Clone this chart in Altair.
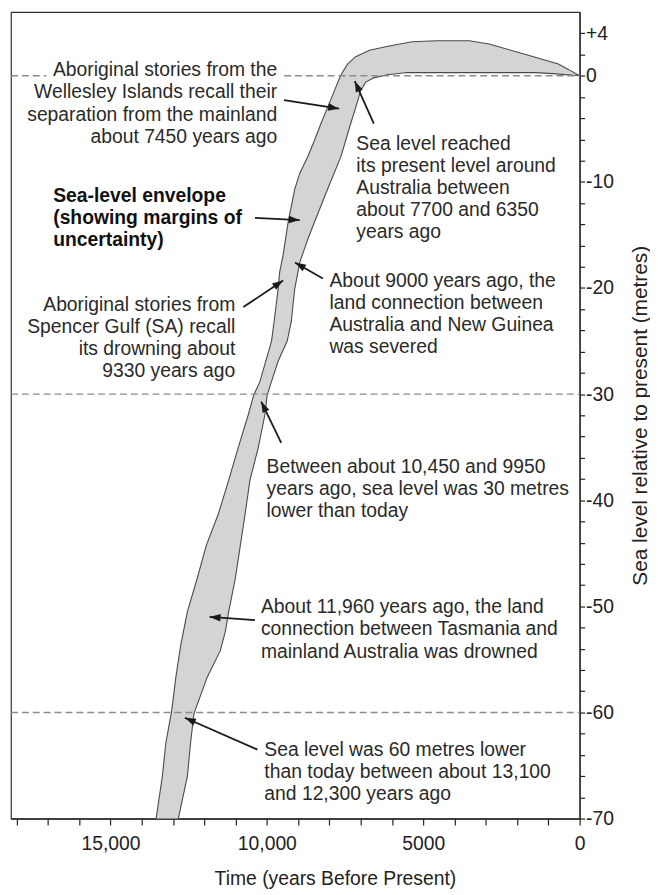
import math
import altair as alt
import pandas as pd

# ---------------- data ----------------
# Sea-level envelope: upper (older / higher) margin, from the bottom up and across to present
upper_years = [13540, 13340, 13230, 13040, 12910, 12750, 12540, 12230, 11940, 11540,
               11220, 10910, 10590, 10420, 10220, 9850, 9770, 9640, 9590, 9480,
               9320, 9110, 8950, 8690, 8480, 8270, 8060, 7840, 7630, 7420,
               7160, 6720, 6090, 5360, 4570, 3530, 2890, 2670, 1720, 680, 360, 0]
upper_levels = [-70, -66.0, -62.9, -59.8, -56.7, -53.6, -50.5, -47.4, -44.3, -41.2,
                -38.1, -35.0, -31.9, -30.1, -28.8, -25.0, -23.2, -20.1, -18.5, -16.9,
                -13.8, -10.7, -9.2, -7.6, -6.1, -4.5, -3.0, -1.4, 0.1, 1.1,
                1.8, 2.4, 2.8, 3.2, 3.3, 3.3, 3.0, 2.8, 2.0, 1.1, 0.6, 0.0]
# lower (younger / deeper) margin, from present back down to the bottom
lower_years = [860, 1400, 4980, 5520, 6150, 6580, 6840, 7000, 7160, 7320,
               7630, 8060, 8480, 8690, 8950, 9110, 9220, 9350, 9640, 9850,
               9990, 10060, 10270, 10540, 10690, 10850, 11010, 11220, 11330, 11490,
               11910, 12330, 12440, 12540, 12830]
lower_levels = [0.2, 0.3, 0.3, 0.3, 0.1, -0.2, -0.6, -1.4, -3.0, -4.5,
                -7.6, -10.7, -13.8, -15.4, -17.6, -20.1, -23.2, -25.0, -26.9, -28.8,
                -30.1, -31.9, -35.0, -38.1, -41.2, -44.3, -47.4, -50.5, -52.4, -54.2,
                -56.7, -60.1, -62.9, -66.0, -70]

# dashed reference levels (0 line is interrupted by the first annotation)
dash_levels = [0, 0, -30, -60]
dash_from = [18180, 9450, 18180, 18180]
dash_to = [17050, 0, 0, 0]

# annotations (anchor = first line)
note_text = [
    "Aboriginal stories from the\nWellesley Islands recall their\nseparation from the mainland\nabout 7450 years ago",
    "Aboriginal stories from\nSpencer Gulf (SA) recall\nits drowning about\n9330 years ago",
    "Sea level reached\nits present level around\nAustralia between\nabout 7700 and 6350\nyears ago",
    "About 9000 years ago, the\nland connection between\nAustralia and New Guinea\nwas severed",
    "Between about 10,450 and 9950\nyears ago, sea level was 30 metres\nlower than today",
    "About 11,960 years ago, the land\nconnection between Tasmania and\nmainland Australia was drowned",
    "Sea level was 60 metres lower\nthan today between about 13,100\nand 12,300 years ago",
]
note_year = [9670, 11010, 7140, 8000, 10010, 10190, 10080]
note_level = [0.5, -21.6, -6.4, -19.3, -36.9, -50.1, -63.5]
note_align = ["right", "right", "left", "left", "left", "left", "left"]

bold_text = ["Sea-level envelope\n(showing margins of\nuncertainty)"]
bold_year = [16830]
bold_level = [-11.3]

# arrows: start (year, level) -> tip (year, level)
arrow_y0 = [9450, 10380, 10750, 6580, 8210, 9540, 10380, 10300]
arrow_l0 = [-2.3, -13.4, -21.8, -4.5, -19.1, -34.6, -51.3, -63.5]
arrow_y1 = [7690, 8950, 9480, 7190, 9100, 10180, 11830, 12620]
arrow_l1 = [-3.1, -13.6, -19.3, -0.5, -17.6, -30.7, -51.0, -60.5]

x_ticks = list(range(0, 18001, 1000))
y_ticks = list(range(-70, 5, 2))

# ---------------- layout ----------------
X_DOMAIN = [0, 18180]
Y_DOMAIN = [-70, 6]
W, H = 574, 814
FONT = "Liberation Sans"
FS = 19.5
LH = 22.3
INK = "#2a2a2a"

xs = alt.Scale(domain=X_DOMAIN, reverse=True, nice=False, zero=False)
ys = alt.Scale(domain=Y_DOMAIN, nice=False, zero=False)

env = pd.DataFrame({
    "year": upper_years + lower_years,
    "level": upper_levels + lower_levels,
})
env["order"] = range(len(env))

dashes = pd.DataFrame({"level": dash_levels, "x0": dash_from, "x1": dash_to})

notes = pd.DataFrame({"text": note_text, "year": note_year, "level": note_level, "align": note_align})
bold = pd.DataFrame({"text": bold_text, "year": bold_year, "level": bold_level})

px_year = W / (X_DOMAIN[1] - X_DOMAIN[0])
px_m = H / (Y_DOMAIN[1] - Y_DOMAIN[0])
angles = []
for a, b, c, d in zip(arrow_y0, arrow_l0, arrow_y1, arrow_l1):
    dx = -(c - a) * px_year
    dy = -(d - b) * px_m
    angles.append(math.degrees(math.atan2(dx, -dy)) % 360)
arrows = pd.DataFrame({"y0": arrow_y0, "l0": arrow_l0, "y1": arrow_y1, "l1": arrow_l1, "angle": angles})

x_axis = alt.Axis(
    values=x_ticks,
    labelExpr="datum.value == 0 ? '0' : datum.value == 5000 ? '5000' : datum.value % 5000 == 0 ? format(datum.value, ',') : ''",
    tickSize=6.5, tickWidth=1.2, tickColor="#222", domainColor="#222", domainWidth=1.2,
    labelPadding=10, labelFontSize=FS, labelFont=FONT, labelColor="#222",
    labelFlush=False, labelOverlap=False, grid=False,
    title="Time (years Before Present)", titleFont=FONT, titleFontSize=FS,
    titleFontWeight="normal", titleColor="#222", titleX=327, titleY=61,
    titleAlign="center", titleBaseline="middle",
)
y_axis = alt.Axis(
    orient="right", values=y_ticks,
    labelExpr="datum.value == 4 ? '+4' : (datum.value % 10 == 0 ? '' + datum.value : '')",
    tickSize=5, tickWidth=1.2, tickColor="#222", domainColor="#222", domainWidth=1.2,
    labelPadding=1, labelFontSize=FS, labelFont=FONT, labelColor="#222",
    labelFlush=False, labelOverlap=False, grid=False,
    title="Sea level relative to present (metres)", titleFont=FONT, titleFontSize=21,
    titleFontWeight="normal", titleColor="#222", titleAngle=270, titleX=61,
    titleAlign="center", titleBaseline="middle",
)

def X(field):
    return alt.X(field, scale=xs, axis=x_axis, title="Time (years Before Present)")

def Y(field):
    return alt.Y(field, scale=ys, axis=y_axis, title="Sea level relative to present (metres)")

envelope = alt.Chart(env).mark_line(
    fill="#d4d4d4", stroke="#4a4a4a", strokeWidth=1.1
).encode(
    x=X("year:Q"),
    y=Y("level:Q"),
    order="order:Q",
)

dash_layer = alt.Chart(dashes).mark_rule(
    color="#8c8c8c", strokeWidth=1.4, strokeDash=[7, 4]
).encode(
    x=X("x0:Q"),
    x2="x1:Q",
    y=Y("level:Q"),
)

arrow_lines = alt.Chart(arrows).mark_rule(color="#1a1a1a", strokeWidth=1.8).encode(
    x=X("y0:Q"),
    y=Y("l0:Q"),
    x2="y1:Q",
    y2="l1:Q",
)

arrow_heads = alt.Chart(arrows).mark_point(
    shape="M0,0 L-0.34,1 L0.34,1 Z", filled=True, size=484,
    color="#1a1a1a", opacity=1, strokeWidth=0,
).encode(
    x=X("y1:Q"),
    y=Y("l1:Q"),
    angle=alt.Angle("angle:Q", scale=None),
)

def text_layer(df, align, weight="normal", color=INK):
    return alt.Chart(df).mark_text(
        align=align, baseline="middle", lineBreak="\n", lineHeight=LH,
        font=FONT, fontSize=FS, fontWeight=weight, color=color,
    ).encode(
        x=X("year:Q"),
        y=Y("level:Q"),
        text="text:N",
    )

right_notes = text_layer(notes[notes["align"] == "right"], "right")
left_notes = text_layer(notes[notes["align"] == "left"], "left")
bold_note = text_layer(bold, "left", weight="bold", color="#111")

chart = alt.layer(
    envelope, dash_layer, arrow_lines, arrow_heads, right_notes, left_notes, bold_note
).properties(
    width=W, height=H,
    padding={"left": 2, "top": 0, "right": 0, "bottom": 0},
    background="white",
).configure_view(stroke="#333", strokeWidth=1.2)

chart.save("out.html", embed_options={"renderer": "svg", "actions": False})
